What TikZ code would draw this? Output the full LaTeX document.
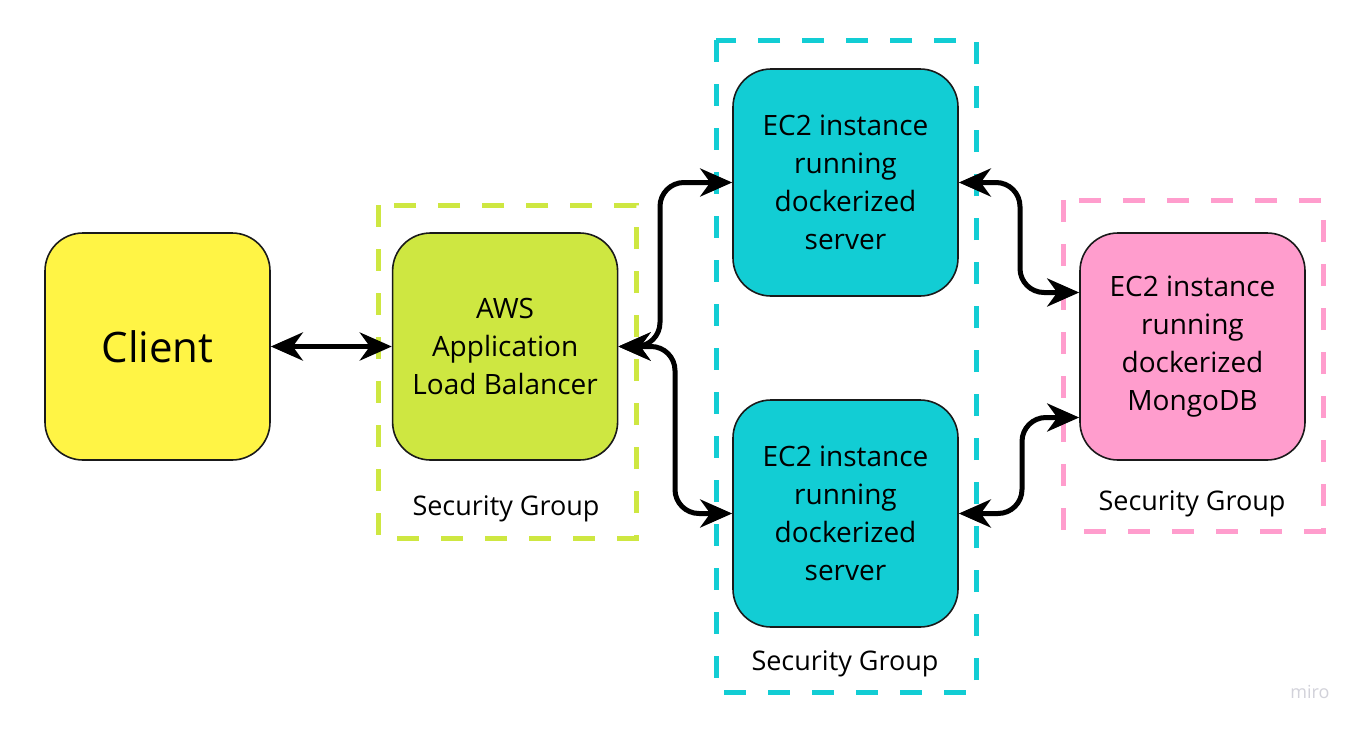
\documentclass[tikz,border=0pt]{standalone}
\usepackage{fontspec}
\setmainfont{Open Sans}
\usetikzlibrary{positioning, arrows.meta}
\definecolor{clientyellow}{HTML}{FFF445}
\definecolor{albgreen}{HTML}{CEE741}
\definecolor{servercyan}{HTML}{12CDD4}
\definecolor{mongopink}{HTML}{FF9DCD}
\definecolor{boxline}{HTML}{1A1A1A}
\definecolor{mirogray}{HTML}{D2D2DA}

\begin{document}
\begin{tikzpicture}[
                x=1pt, y=-1pt,
                box/.style={rectangle, rounded corners=38pt, draw=boxline, line width=1.6pt,
                            minimum width=225pt, minimum height=227pt, align=center,
                            font=\fontsize{28}{38}\selectfont},
                group/.style={dash pattern=on 22pt off 22pt, line width=5pt},
                grouplabel/.style={font=\fontsize{27}{30}\selectfont},
                link/.style={{Stealth[length=32pt, width=28pt, inset=10pt]}-{Stealth[length=32pt, width=28pt, inset=10pt]},
                             line width=5pt, rounded corners=24pt},
            ]
            \useasboundingbox (0,0) rectangle (1366,731);
            \fill[white] (0,0) rectangle (1366,731);

            % Security groups
            \draw[group, albgreen] (378,205) rectangle (636,538);
            \draw[group, servercyan] (716,40) rectangle (976,692);
            \draw[group, mongopink] (1063,200) rectangle (1323,531);

            % Boxes
            \node[box, fill=clientyellow, font=\fontsize{42}{48}\selectfont] (client) at (157.5,346.5) {Client};
            \node[box, fill=albgreen, right=121pt of client] (alb) {AWS\\Application\\Load Balancer};
            \node[box, fill=servercyan] (top) at (845.5,182.5) {EC2 instance\\running\\dockerized\\server};
            \node[box, fill=servercyan] (bottom) at (845.5,513.5) {EC2 instance\\running\\dockerized\\server};
            \node[box, fill=mongopink] (mongo) at (1192.5,346.5) {EC2 instance\\running\\dockerized\\MongoDB};

            % Group labels
            \node[grouplabel] (albgroup) at (506,509) {Security Group};
            \node[grouplabel] (servergroup) at (845,664) {Security Group};
            \node[grouplabel] (mongogroup) at (1192,504) {Security Group};
            \node[text=mirogray, font=\fontsize{18}{20}\selectfont] (miro) at (1310,692) {miro};

            % Connections
            \draw[link] (client) -- (alb);
            \draw[link] (alb.east) -| (660,265) |- (top.west);
            \draw[link] (alb.east) -| (675,430) |- (bottom.west);
            \draw[link] (top.east) -| (1020,240) |- ([yshift=54pt]mongo.west);
            \draw[link] (bottom.east) -| (1022,465) |- ([yshift=-71pt]mongo.west);

\end{tikzpicture}
\end{document}
